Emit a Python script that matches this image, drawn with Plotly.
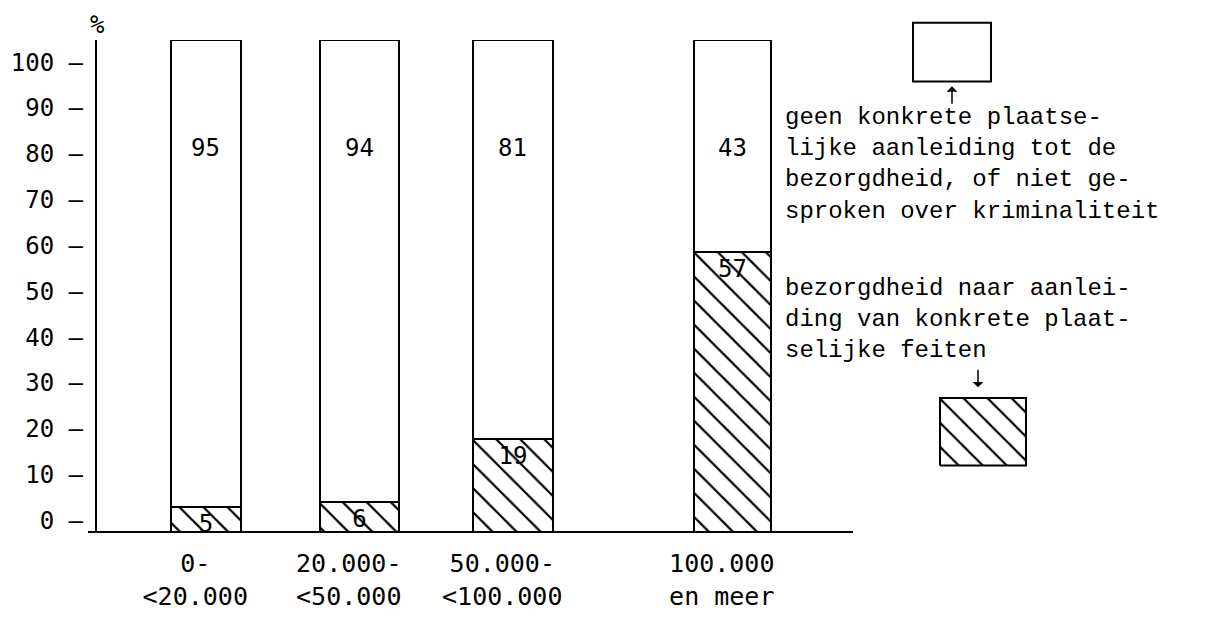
import plotly.graph_objects as go

# ---------------- data ----------------
size_top = ["0-", "20.000-", "50.000-", "100.000"]
size_bottom = ["<20.000", "<50.000", "<100.000", "en meer"]
concrete_pct = [5, 6, 19, 57]        # bezorgdheid naar aanleiding van konkrete plaatselijke feiten
no_concrete_pct = [95, 94, 81, 43]   # geen konkrete plaatselijke aanleiding / niet gesproken
y_ticks = [0, 10, 20, 30, 40, 50, 60, 70, 80, 90, 100]

legend_top_text = ["geen konkrete plaatse-", "lijke aanleiding tot de",
                   "bezorgdheid, of niet ge-", "sproken over kriminaliteit"]
legend_bottom_text = ["bezorgdheid naar aanlei-", "ding van konkrete plaat-",
                      "selijke feiten"]

# ---------------- layout helpers ----------------
W, H = 1210, 621
L, T = 97, 40
B = H - 550
R = W - 1200
slots = [0, 1, 2, 3.43]           # horizontal slot of each bar group
bar_widths = [0.46, 0.52, 0.52, 0.5]
label_shift = -0.07               # category labels sit slightly left of the bars


def fx(px):
    return (px - L) / (W - L - R)


def fy(py):
    return ((H - B) - py) / (H - T - B)


def esc(s):
    return s.replace("<", "&lt;")


SANS_MONO = "DejaVu Sans Mono"
SERIF_MONO = "Liberation Mono"

tick_text = [esc(a) + "<br>" + esc(b) for a, b in zip(size_top, size_bottom)]

fig = go.Figure()

hatch = dict(shape="\\", fgcolor="black", bgcolor="white", size=17,
             solidity=0.13, fillmode="replace")

fig.add_trace(go.Bar(
    x=slots, y=concrete_pct, width=bar_widths,
    marker=dict(color="white", pattern=hatch, line=dict(color="black", width=2)),
    text=[str(v) for v in concrete_pct], textposition="inside",
    insidetextanchor="end", constraintext="none", textangle=0,
    textfont=dict(family=SANS_MONO, size=24, color="black"),
    showlegend=False, hoverinfo="skip",
))
fig.add_trace(go.Bar(
    x=slots, y=no_concrete_pct, width=bar_widths,
    marker=dict(color="white", line=dict(color="black", width=2)),
    showlegend=False, hoverinfo="skip",
))

# tick-only axis (the drawn scale of the original)
fig.add_trace(go.Scatter(x=[slots[0]], y=[None], yaxis="y2", showlegend=False,
                         hoverinfo="skip", mode="markers"))

# hatched legend swatch
PADF = 0.04
fig.add_trace(go.Scatter(
    x=[0, 1, 1, 0, 0], y=[0, 0, 1, 1, 0], xaxis="x2", yaxis="y3",
    mode="lines", fill="toself", fillcolor="white",
    fillpattern=hatch, line=dict(color="black", width=2),
    showlegend=False, hoverinfo="skip",
))


def padded(a, b):
    span = b - a
    return [a - span * PADF, b + span * PADF]


annotations = []
for s, v in zip(slots, no_concrete_pct):
    annotations.append(dict(x=s, y=78, xref="x", yref="y", text=str(v),
                            showarrow=False, xanchor="center", yanchor="middle",
                            font=dict(family=SANS_MONO, size=24, color="black")))

annotations.append(dict(x=fx(97), y=fy(24), xref="paper", yref="paper", text="%",
                        showarrow=False, xanchor="center", yanchor="middle",
                        font=dict(family=SANS_MONO, size=24, color="black")))
annotations.append(dict(x=fx(783), y=fy(169), xref="paper", yref="paper",
                        text="<br>".join(legend_top_text), showarrow=False,
                        xanchor="left", yanchor="middle", align="left",
                        font=dict(family=SERIF_MONO, size=24, color="black")))
annotations.append(dict(x=fx(783), y=fy(330), xref="paper", yref="paper",
                        text="<br>".join(legend_bottom_text), showarrow=False,
                        xanchor="left", yanchor="middle", align="left",
                        font=dict(family=SERIF_MONO, size=24, color="black")))
# arrows pointing to the legend swatches
annotations.append(dict(x=fx(952), y=fy(88), ax=0, ay=19,
                        xref="paper", yref="paper", axref="pixel", ayref="pixel",
                        text="", showarrow=True, arrowhead=1, arrowsize=1.2,
                        arrowwidth=1.5, arrowcolor="black"))
annotations.append(dict(x=fx(978), y=fy(400), ax=0, ay=-19,
                        xref="paper", yref="paper", axref="pixel", ayref="pixel",
                        text="", showarrow=True, arrowhead=1, arrowsize=1.2,
                        arrowwidth=1.5, arrowcolor="black"))

shapes = [
    dict(type="rect", xref="paper", yref="paper",
         x0=fx(913), x1=fx(991), y0=fy(83), y1=fy(22),
         line=dict(color="black", width=2), fillcolor="white"),
    dict(type="line", xref="paper", yref="paper",
         x0=fx(88), x1=fx(853), y0=0, y1=0,
         line=dict(color="black", width=2)),
]

fig.update_layout(
    width=W, height=H,
    margin=dict(l=L, r=R, t=T, b=B, pad=0),
    paper_bgcolor="white", plot_bgcolor="white",
    barmode="stack", bargap=0,
    font=dict(family=SANS_MONO, color="black"),
    xaxis=dict(domain=[0, fx(853)], range=[-0.71, 4.215],
               tickvals=[s + label_shift for s in slots], ticktext=tick_text,
               tickfont=dict(family=SANS_MONO, size=25, color="black"),
               showgrid=False, zeroline=False, showline=False, ticks="",
               ticklabelstandoff=14),
    yaxis=dict(range=[0, 100], showgrid=False, zeroline=False,
               showline=True, linecolor="black", linewidth=2,
               showticklabels=False, ticks=""),
    yaxis2=dict(overlaying="y", side="left", range=[-2.53, 104.84],
                tickvals=y_ticks, ticktext=[f"{v} –" for v in y_ticks],
                tickfont=dict(family=SANS_MONO, size=24, color="black"),
                showgrid=False, zeroline=False, showline=False, ticks="",
                ticklabelstandoff=13),
    xaxis2=dict(domain=padded(fx(940), fx(1026)), range=[-PADF, 1 + PADF],
                anchor="y3", visible=False),
    yaxis3=dict(domain=padded(fy(481), fy(411)), range=[-PADF, 1 + PADF],
                anchor="x2", visible=False),
    annotations=annotations,
    shapes=shapes,
)

fig.write_html(
    "out.html",
    config={"displayModeBar": False, "staticPlot": True},
    post_script="document.body.style.margin='0px';document.body.style.overflow='hidden';",
)
